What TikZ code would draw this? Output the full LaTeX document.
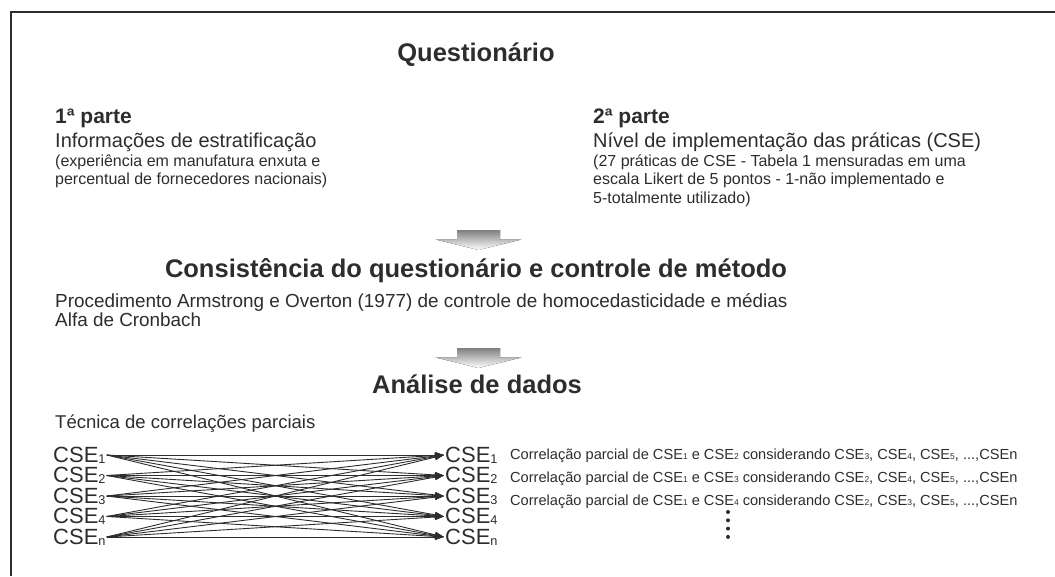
\documentclass[tikz,border=0pt]{standalone}
\usepackage{fontspec}
\setmainfont{Liberation Sans}
\usepackage{tikz}
\usetikzlibrary{arrows.meta}

\definecolor{ink}{RGB}{45,45,45}
\definecolor{shade}{RGB}{125,125,125}
\newcommand{\idx}[1]{\raisebox{-0.06em}{\scalebox{0.58}{#1}}}

\begin{document}
\begin{tikzpicture}[x=1pt, y=-1pt,
        every node/.style={text=ink, inner sep=0pt},
        head/.style={font=\fontsize{25.5}{30}\selectfont\bfseries},
        part/.style={font=\fontsize{21}{24}\selectfont\bfseries},
        big/.style={font=\fontsize{20}{24}\selectfont},
        small/.style={font=\fontsize{16}{18.5}\selectfont, align=left},
        body/.style={font=\fontsize{18.9}{19.5}\selectfont, align=left},
        cse/.style={font=\fontsize{22}{24}\selectfont, inner sep=1pt},
        note/.style={font=\fontsize{14.6}{17}\selectfont},
        link/.style={draw=ink, line width=0.9pt, -{Triangle[length=9pt, width=6pt]}}]
        \useasboundingbox (0,0) rectangle (1055,576);
        \draw[ink, line width=1.5pt] (1055,12) -- (11,12) -- (11,576);

        % questionario
        \node[head, anchor=base] (quest) at (476,61) {Questionário};
        \node[part, anchor=base west] (p1) at (55,123) {1ª parte};
        \node[big, anchor=base west] (p1t) at (55,147) {Informações de estratificação};
        % base = ultima linha
        \node[small, anchor=base west] (p1s) at (55,184.5) {(experiência em manufatura enxuta e\\percentual de fornecedores nacionais)};
        \node[part, anchor=base west] (p2) at (593,123) {2ª parte};
        \node[big, anchor=base west] (p2t) at (593,147) {Nível de implementação das práticas (CSE)};
        \node[small, anchor=base west] (p2s) at (593,203) {(27 práticas de CSE - Tabela 1 mensuradas em uma\\escala Likert de 5 pontos - 1-não implementado e\\5-totalmente utilizado)};

        % setas largas
        \foreach \y in {230, 348}
        {
            \fill[shade] (457,\y) -- (500,\y) -- (500,\y+9.5) -- (521.5,\y+9.5) -- (478.5,\y+20)
                -- (435.5,\y+9.5) -- (457,\y+9.5) -- cycle;
        }

        % consistencia
        \node[head, anchor=base] (cons) at (476,277) {Consistência do questionário e controle de método};
        \node[body, anchor=base west] (proc) at (55,326.5) {Procedimento Armstrong e Overton (1977) de controle de homocedasticidade e médias\\Alfa de Cronbach};

        % analise
        \node[head, anchor=base] (anal) at (477,393) {Análise de dados};
        \node[body, font=\fontsize{18.5}{19.5}\selectfont, anchor=base west] (tec) at (55,428) {Técnica de correlações parciais};

        \foreach \i/\s in {1/1, 2/2, 3/3, 4/4, 5/n}
        {
            \node[cse, anchor=base west] (l\i) at (52, 441.5 + 20.5 * \i) {CSE\idx{\s}};
            \node[cse, anchor=base west] (r\i) at (444, 441.5 + 20.5 * \i) {CSE\idx{\s}};
        }
        \foreach \i in {1, ..., 5}
            \foreach \j in {1, ..., 5}
                \draw[link] (l\i.east) -- (r\j.west);

        \node[note, anchor=base west] (c1) at (510,459) {Correlação parcial de CSE\idx{1} e CSE\idx{2} considerando CSE\idx{3}, CSE\idx{4}, CSE\idx{5}, ...,CSEn};
        \node[note, anchor=base west] (c2) at (510,482) {Correlação parcial de CSE\idx{1} e CSE\idx{3} considerando CSE\idx{2}, CSE\idx{4}, CSE\idx{5}, ...,CSEn};
        \node[note, anchor=base west] (c3) at (510,505) {Correlação parcial de CSE\idx{1} e CSE\idx{4} considerando CSE\idx{2}, CSE\idx{3}, CSE\idx{5}, ...,CSEn};
        \foreach \k in {0, ..., 3}
            \fill[ink] (728, 512 + 8.3 * \k) circle (2);
\end{tikzpicture}
\end{document}
